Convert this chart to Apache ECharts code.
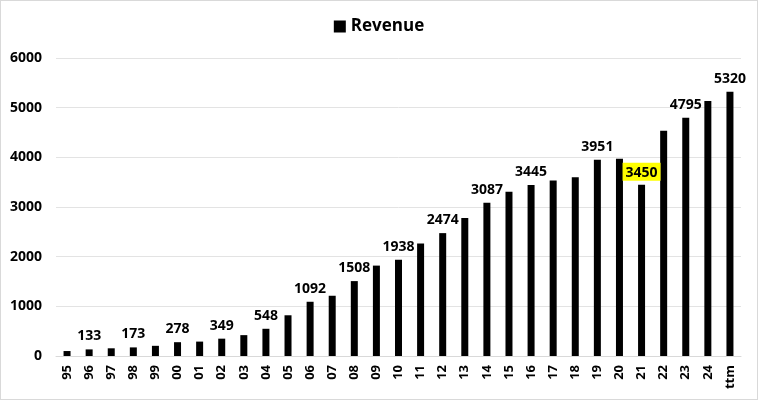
<!DOCTYPE html>
<html><head><meta charset="utf-8">
<script src="https://cdn.jsdelivr.net/npm/echarts@6/dist/echarts.min.js"></script>
<style>html,body{margin:0;padding:0;background:#fff}#c{width:756px;height:398px;border:1px solid #d9d9d9}</style>
</head><body><div id="c"></div>
<script>
const categories = ['95','96','97','98','99','00','01','02','03','04','05','06','07','08','09','10','11','12','13','14','15','16','17','18','19','20','21','22','23','24','ttm'];
const revenue = [100,133,155,173,205,278,290,349,420,548,820,1092,1213,1508,1820,1938,2265,2474,2780,3087,3305,3445,3533,3600,3951,3972,3450,4535,4795,5133,5320];
const labeledCategories = ['96','98','00','02','04','06','08','10','12','14','16','19','21','23','ttm'];
const highlightedCategories = ['21'];
const yTicks = [0,1000,2000,3000,4000,5000,6000];

const FONT = '"Open Sans", "Noto Sans", sans-serif';
const data = revenue.map((v, i) => {
  const cat = categories[i];
  const item = { value: v };
  if (labeledCategories.includes(cat)) {
    item.label = { show: true };
    if (highlightedCategories.includes(cat)) {
      item.label = { show: true, backgroundColor: '#ffff00', padding: [3, 3, 1, 3], distance: 4 };
    }
  } else {
    item.label = { show: false };
  }
  return item;
});

const chart = echarts.init(document.getElementById('c'));
chart.setOption({
  animation: false,
  textStyle: { fontFamily: FONT },
  legend: {
    top: 12, left: 'center',
    icon: 'rect', itemWidth: 12, itemHeight: 12, itemGap: 6,
    textStyle: { fontSize: 17, fontWeight: 'bold', color: '#000', fontFamily: FONT },
    data: ['Revenue']
  },
  grid: { left: 55, right: 16, top: 57, bottom: 43, containLabel: false },
  xAxis: {
    type: 'category', data: categories,
    axisLine: { lineStyle: { color: '#d9d9d9' } },
    axisTick: { show: false },
    axisLabel: { rotate: 90, fontSize: 13, fontWeight: 'bold', color: '#000', margin: 9, fontFamily: FONT }
  },
  yAxis: {
    type: 'value', min: yTicks[0], max: yTicks[yTicks.length - 1], interval: 1000,
    axisLine: { show: false }, axisTick: { show: false },
    splitLine: { lineStyle: { color: '#e3e3e3' } },
    axisLabel: { fontSize: 14, fontWeight: 'bold', color: '#000', margin: 14, fontFamily: FONT, formatter: v => String(v) }
  },
  series: [{
    name: 'Revenue', type: 'bar', data: data, barWidth: 7,
    itemStyle: { color: '#000' },
    label: { position: 'top', distance: 6, fontSize: 14, fontWeight: 'bold', color: '#000', fontFamily: FONT }
  }]
});
</script></body></html>
